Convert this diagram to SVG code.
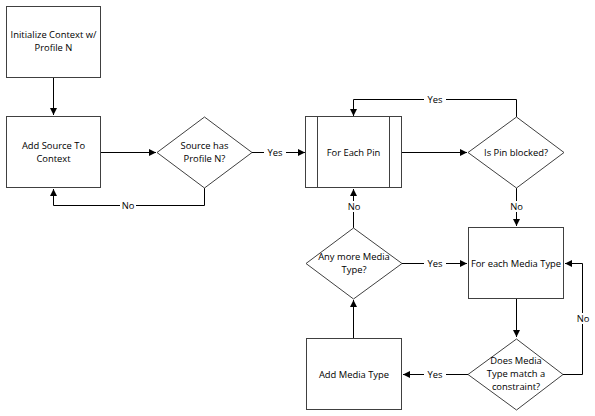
<svg xmlns="http://www.w3.org/2000/svg" width="595" height="416" viewBox="0 0 595 416">
<style>
.n{fill:#fff;stroke:#404040;stroke-width:1}
.c{fill:none;stroke:#000;stroke-width:1}
text{font-family:"Open Sans","DejaVu Sans",sans-serif;font-size:9.4px;fill:#000;text-anchor:middle}
.lb{fill:#fff;stroke:none}
</style>
<defs>
<marker id="a" markerWidth="8" markerHeight="8" refX="7" refY="4" orient="auto" markerUnits="userSpaceOnUse">
<path d="M0,0.5 L7,4 L0,7.5 Z" fill="#000"/>
</marker>
</defs>
<rect width="595" height="416" fill="#fff"/>
<g id="connectors">
<path class="c" d="M53.5,77 V115" marker-end="url(#a)"/>
<path class="c" d="M101,152.5 H156" marker-end="url(#a)"/>
<path class="c" d="M252,152.5 H305" marker-end="url(#a)"/>
<path class="c" d="M204.5,188 V205.5 H53.5 V189" marker-end="url(#a)"/>
<path class="c" d="M402,152.5 H467" marker-end="url(#a)"/>
<path class="c" d="M516.5,117 V99.5 H353.5 V116" marker-end="url(#a)"/>
<path class="c" d="M516.5,188 V226" marker-end="url(#a)"/>
<path class="c" d="M353.5,228 V189" marker-end="url(#a)"/>
<path class="c" d="M402,263.5 H467" marker-end="url(#a)"/>
<path class="c" d="M516.5,299 V337" marker-end="url(#a)"/>
<path class="c" d="M468,374.5 H403" marker-end="url(#a)"/>
<path class="c" d="M353.5,338 V300" marker-end="url(#a)"/>
<path class="c" d="M563,374.5 H582.5 V263.5 H565" marker-end="url(#a)"/>
<rect class="lb" x="264" y="147" width="22" height="11"/>
<text x="275" y="156">Yes</text>
<rect class="lb" x="120" y="200" width="16" height="11"/>
<text x="128" y="209">No</text>
<rect class="lb" x="424" y="94" width="22" height="11"/>
<text x="435" y="103">Yes</text>
<rect class="lb" x="508" y="201" width="16" height="11"/>
<text x="516.5" y="210">No</text>
<rect class="lb" x="346" y="201" width="16" height="11"/>
<text x="354" y="210">No</text>
<rect class="lb" x="424" y="258" width="22" height="11"/>
<text x="435" y="267">Yes</text>
<rect class="lb" x="424" y="369" width="22" height="11"/>
<text x="435" y="378">Yes</text>
<rect class="lb" x="575" y="313" width="16" height="11"/>
<text x="583" y="322">No</text>
</g>
<g id="init">
<rect class="n" x="6.5" y="6.5" width="94" height="71"/>
<text x="53.5" y="38">Initialize Context w/</text>
<text x="53.5" y="51">Profile N</text>
</g>
<g id="addsource">
<rect class="n" x="6.5" y="116.5" width="94" height="71"/>
<text x="53.5" y="149">Add Source To</text>
<text x="53.5" y="162">Context</text>
</g>
<g id="hasprofile">
<path class="n" d="M157,152.5 L204.5,117 L252,152.5 L204.5,188 Z"/>
<text x="204.5" y="149">Source has</text>
<text x="204.5" y="162">Profile N?</text>
</g>
<g id="foreachpin">
<rect class="n" x="305.5" y="116.5" width="96" height="71"/>
<path class="n" d="M317.5,116.5 V187.5 M389.5,116.5 V187.5"/>
<text x="353.5" y="155.5">For Each Pin</text>
</g>
<g id="pinblocked">
<path class="n" d="M468,152.5 L516.5,117 L564,152.5 L516.5,188 Z"/>
<text x="516" y="155.5">Is Pin blocked?</text>
</g>
<g id="foreachmedia">
<rect class="n" x="468.5" y="227.5" width="95" height="71"/>
<text x="516" y="266.5">For each Media Type</text>
</g>
<g id="anymore">
<path class="n" d="M306,263.5 L353.5,228 L402,263.5 L353.5,299 Z"/>
<text x="354" y="260">Any more Media</text>
<text x="354" y="273">Type?</text>
</g>
<g id="addmedia">
<rect class="n" x="306.5" y="338.5" width="95" height="71"/>
<text x="354" y="377.5">Add Media Type</text>
</g>
<g id="matches">
<path class="n" d="M468,374.5 L516.5,339 L563,374.5 L516.5,410 Z"/>
<text x="516" y="364">Does Media</text>
<text x="516" y="377">Type match a</text>
<text x="516" y="390">constraint?</text>
</g>
</svg>
